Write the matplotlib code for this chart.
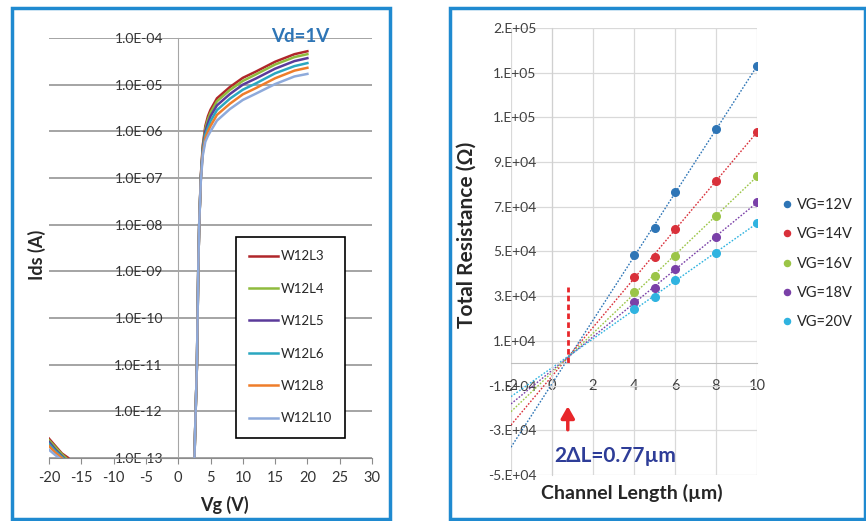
import numpy as np
import matplotlib
matplotlib.use('Agg')
from matplotlib import pyplot as plt
from matplotlib.patches import Rectangle
from matplotlib.ticker import FuncFormatter, FixedLocator

plt.rcParams['font.family'] = ['Lato', 'DejaVu Sans']
plt.rcParams['axes.unicode_minus'] = False

W, H = 866, 521

# ---- left panel: Ids-Vg transfer curves (Vd=1V) ----
vg = [-20, -19, -18, -17, -16, 2.5, 2.7, 2.9, 3.0, 3.1, 3.25, 3.5, 3.8, 4.2, 4.6, 5, 6, 8, 10, 12, 15, 18, 20]
ids_L3 = [2.6e-13, 1.8e-13, 1.25e-13, 1.0e-13, 5e-14, 8e-14, 1e-12, 1e-11, 1e-10, 1e-9, 1e-8, 1.1e-7, 5.0e-7, 1.3e-6,
          2.1e-6, 2.9e-6, 5.1e-6, 8.9e-6, 1.4e-5, 1.9e-5, 3.1e-5, 4.5e-5, 5.2e-5]
ids_L4 = [2.4e-13, 1.7e-13, 1.2e-13, 9e-14, 5e-14, 8e-14, 1e-12, 1e-11, 1e-10, 1e-9, 1e-8, 1.05e-7, 4.6e-7, 1.15e-6,
          1.8e-6, 2.5e-6, 4.4e-6, 7.7e-6, 1.2e-5, 1.65e-5, 2.7e-5, 3.9e-5, 4.5e-5]
ids_L5 = [2.2e-13, 1.5e-13, 1.1e-13, 8e-14, 5e-14, 8e-14, 1e-12, 1e-11, 1e-10, 1e-9, 1e-8, 1.0e-7, 4.2e-7, 1.0e-6,
          1.5e-6, 2.1e-6, 3.6e-6, 6.3e-6, 1.0e-5, 1.35e-5, 2.2e-5, 3.2e-5, 3.7e-5]
ids_L6 = [2.0e-13, 1.4e-13, 1.05e-13, 8e-14, 5e-14, 8e-14, 1e-12, 1e-11, 1e-10, 1e-9, 1e-8, 9.5e-8, 3.8e-7, 8.5e-7,
          1.2e-6, 1.65e-6, 2.85e-6, 5.0e-6, 7.8e-6, 1.06e-5, 1.75e-5, 2.5e-5, 2.9e-5]
ids_L8 = [1.8e-13, 1.3e-13, 1.0e-13, 7e-14, 5e-14, 8e-14, 1e-12, 1e-11, 1e-10, 1e-9, 1e-8, 9e-8, 3.4e-7, 7.2e-7,
          1.0e-6, 1.3e-6, 2.25e-6, 3.9e-6, 6.2e-6, 8.4e-6, 1.37e-5, 2.0e-5, 2.3e-5]
ids_L10 = [1.5e-13, 1.15e-13, 9e-14, 7e-14, 5e-14, 8e-14, 1e-12, 1e-11, 1e-10, 1e-9, 1e-8, 8.5e-8, 3.0e-7, 6.0e-7,
           8.0e-7, 1.0e-6, 1.7e-6, 3.0e-6, 4.7e-6, 6.4e-6, 1.03e-5, 1.5e-5, 1.7e-5]
left_names = ['W12L3', 'W12L4', 'W12L5', 'W12L6', 'W12L8', 'W12L10']
left_series = [ids_L3, ids_L4, ids_L5, ids_L6, ids_L8, ids_L10]
left_colors = ['#b0262a', '#8fbb3d', '#5b3a9a', '#2aa7c0', '#ef7d2a', '#8eaadb']

# ---- right panel: total resistance vs channel length ----
chan_len = [4, 5, 6, 8, 10]
r_vg12 = [48600, 60400, 76600, 104600, 133000]
r_vg14 = [38600, 47600, 60200, 81400, 103500]
r_vg16 = [31800, 39000, 48200, 65800, 83900]
r_vg18 = [27300, 33600, 42200, 56700, 72000]
r_vg20 = [24200, 29600, 37200, 49500, 62700]
right_names = ['VG=12V', 'VG=14V', 'VG=16V', 'VG=18V', 'VG=20V']
right_series = [r_vg12, r_vg14, r_vg16, r_vg18, r_vg20]
right_colors = ['#2e75b6', '#d9303a', '#9bc547', '#7a40a8', '#2fb3e0']
delta_l = 0.77


def fx(px):
    return px / W


def fy(py):
    return 1 - py / H


fig = plt.figure(figsize=(W / 100, H / 100), dpi=100)

# panel frames
fig.patches.append(Rectangle((fx(12), fy(519)), (390 - 12) / W, (519 - 8) / H, transform=fig.transFigure,
                             fill=False, edgecolor='#1f8ad0', lw=2.5))
fig.patches.append(Rectangle((fx(450), fy(519)), (865 - 450) / W, (519 - 8) / H, transform=fig.transFigure,
                             fill=False, edgecolor='#1f8ad0', lw=2.5))

# left axes
ax1 = fig.add_axes([fx(49), fy(458), (372 - 49) / W, (458 - 38) / H])
for c, name, s in zip(left_colors, left_names, left_series):
    ax1.plot(vg, s, color=c, lw=1.8, label=name)
ax1.set_yscale('log')
ax1.set_xlim(-20, 30)
ax1.set_ylim(1e-13, 1e-4)
ax1.set_xticks(range(-20, 31, 5))
ax1.yaxis.set_major_locator(FixedLocator([10.0 ** k for k in range(-13, -3)]))
ax1.yaxis.set_minor_locator(FixedLocator([]))
ax1.yaxis.set_major_formatter(FuncFormatter(lambda v, p: '%.1E' % v))
ax1.grid(axis='y', color='#8c8c8c', lw=1.1)
ax1.set_axisbelow(True)
for sp in ['top', 'right']:
    ax1.spines[sp].set_visible(False)
ax1.spines['left'].set_position(('data', 0))
ax1.spines['left'].set_color('#a6a6a6')
ax1.spines['bottom'].set_color('#8c8c8c')
ax1.tick_params(axis='x', length=4, color='#8c8c8c', labelsize=10.5, labelcolor='#333333', pad=5)
ax1.tick_params(axis='y', length=0, labelsize=10, labelcolor='#333333', pad=11)
leg1 = ax1.legend(loc='upper left', bbox_to_anchor=(fx(236), fy(237)), bbox_transform=fig.transFigure,
                  fontsize=9.5, frameon=True, fancybox=False, edgecolor='black', framealpha=1,
                  handlelength=2.2, handletextpad=0.2, labelspacing=1.55, borderpad=1.0, borderaxespad=0)
leg1.get_frame().set_linewidth(1.2)
for t in leg1.get_texts():
    t.set_color('#262626')
fig.text(fx(37), fy(255), 'Ids (A)', rotation=90, ha='center', va='center', fontsize=13, fontweight='bold',
         color='#262626')
fig.text(fx(224), fy(505), 'Vg (V)', ha='center', va='center', fontsize=13, fontweight='bold', color='#262626')
fig.text(fx(300), fy(36), 'Vd=1V', ha='center', va='center', fontsize=13.5, fontweight='bold', color='#2e75b6')

# right axes
ax2 = fig.add_axes([fx(511), fy(475), (757 - 511) / W, (475 - 28) / H])
xfit = np.array([-2, 10])
for c, name, s in zip(right_colors, right_names, right_series):
    k, b = np.polyfit(chan_len, s, 1)
    ax2.plot(xfit, k * xfit + b, color=c, lw=1.0, ls=(0, (1.2, 1.2)))
    ax2.plot(chan_len, s, 'o', color=c, ms=5.5, label=name)
ax2.set_xlim(-2, 10)
ax2.set_ylim(-50000, 150000)
ax2.set_xticks(range(-2, 11, 2))
ax2.set_yticks(range(-50000, 150001, 20000))
ax2.yaxis.set_major_formatter(FuncFormatter(lambda v, p: '%#.0E' % v))
ax2.grid(color='#d9d9d9', lw=0.9)
ax2.set_axisbelow(True)
for sp in ['top', 'right']:
    ax2.spines[sp].set_visible(False)
ax2.spines['left'].set_position(('data', 0))
ax2.spines['left'].set_color('#d0d0d0')
ax2.spines['bottom'].set_position(('data', 0))
ax2.spines['bottom'].set_color('#bfbfbf')
ax2.tick_params(axis='x', length=0, labelsize=10.5, labelcolor='#404040', pad=11)
ax2.tick_params(axis='y', length=0, labelsize=10, labelcolor='#404040', pad=11)

ax2.plot([delta_l, delta_l], [0, 34000], color='#e8262a', lw=2, ls=(0, (2, 1.2)))
ax2.annotate('', xy=(delta_l, -18000), xytext=(delta_l, -31000),
             arrowprops=dict(arrowstyle='-|>,head_width=0.4,head_length=0.7', color='#e8262a', lw=2.5))
ax2.text(0.1, -41500, '2\u0394L=0.77\u00b5m', color='#2e3d98', fontsize=15, fontweight='bold',
         ha='left', va='center')
leg2 = ax2.legend(loc='upper left', bbox_to_anchor=(fx(783), fy(198)), bbox_transform=fig.transFigure,
                  frameon=False, fontsize=10.5, handlelength=0.6, handletextpad=0.35, labelspacing=1.05,
                  markerscale=0.8, borderaxespad=0, borderpad=0)
for t in leg2.get_texts():
    t.set_color('#262626')
fig.text(fx(467), fy(235), 'Total Resistance (\u03a9)', rotation=90, ha='center', va='center', fontsize=15,
         fontweight='bold', color='#262626')
fig.text(fx(632), fy(493), 'Channel Length (\u00b5m)', ha='center', va='center', fontsize=14,
         fontweight='bold', color='#262626')

fig.savefig('out.png', dpi=100)
